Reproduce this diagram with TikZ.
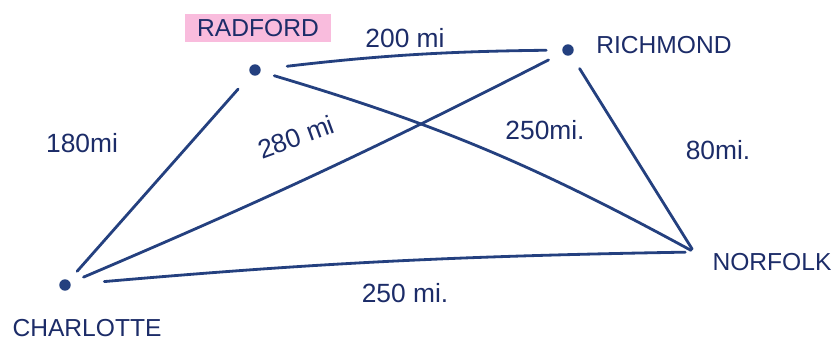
\documentclass[tikz,border=0pt]{standalone}
\usepackage{fontspec}
\setsansfont{Liberation Sans}
\usetikzlibrary{positioning}
\definecolor{cInk}{HTML}{24407F}
\definecolor{cText}{HTML}{1C2C68}
\definecolor{cHigh}{HTML}{F7A6D2}

\begin{document}
\begin{tikzpicture}[x=0.02cm, y=-0.02cm, font=\sffamily\fontsize{15}{17}\selectfont,
    city/.style={circle, fill=cInk, inner sep=0pt, minimum size=6.5pt},
    citylbl/.style={text=cText, font=\sffamily\fontsize{14}{16}\selectfont},
    road/.style={draw=cInk, line width=1.6pt, line cap=round},
    distlbl/.style={text=cText}]
  \useasboundingbox (0,0) rectangle (835,341);
  % cities
  \node[city] (rad) at (255,70) {};
  \node[city] (ric) at (568,50) {};
  \node[city] (cha) at (65,285) {};
  \coordinate (nor) at (694,252);
  \node[citylbl, fill=cHigh!75, inner xsep=7pt, inner ysep=3pt] (radlbl) at (258,28) {RADFORD};
  \node[citylbl] (riclbl) at (664,45) {RICHMOND};
  \node[citylbl] (norlbl) at (772,262) {NORFOLK};
  \node[citylbl] (chalbl) at (87,328) {CHARLOTTE};
  % roads
  \draw[road, shorten <=15pt, shorten >=9pt] (rad) to[bend left=3] (ric);
  \draw[road, shorten <=11pt, shorten >=7pt] (rad) -- (cha);
  \draw[road, shorten <=9pt, shorten >=8pt] (ric) to[bend left=2] (cha);
  \draw[road, shorten <=8pt, shorten >=2pt] (rad) to[bend left=6] (nor);
  \draw[road, shorten <=9pt, shorten >=2pt] (ric) -- (nor);
  \draw[road, shorten <=19pt, shorten >=5pt] (cha) to[bend left=2] (nor);
  % distances
  \node[distlbl] (d1) at (405,38) {200 mi};
  \node[distlbl] (d2) at (82,143) {180mi};
  \node[distlbl, rotate=20, inner sep=1pt] (d3) at (296,137) {280 mi};
  \node[distlbl] (d4) at (545,130) {250mi.};
  \node[distlbl] (d5) at (718,150) {80mi.};
  \node[distlbl] (d6) at (405,293) {250 mi.};
\end{tikzpicture}
\end{document}
